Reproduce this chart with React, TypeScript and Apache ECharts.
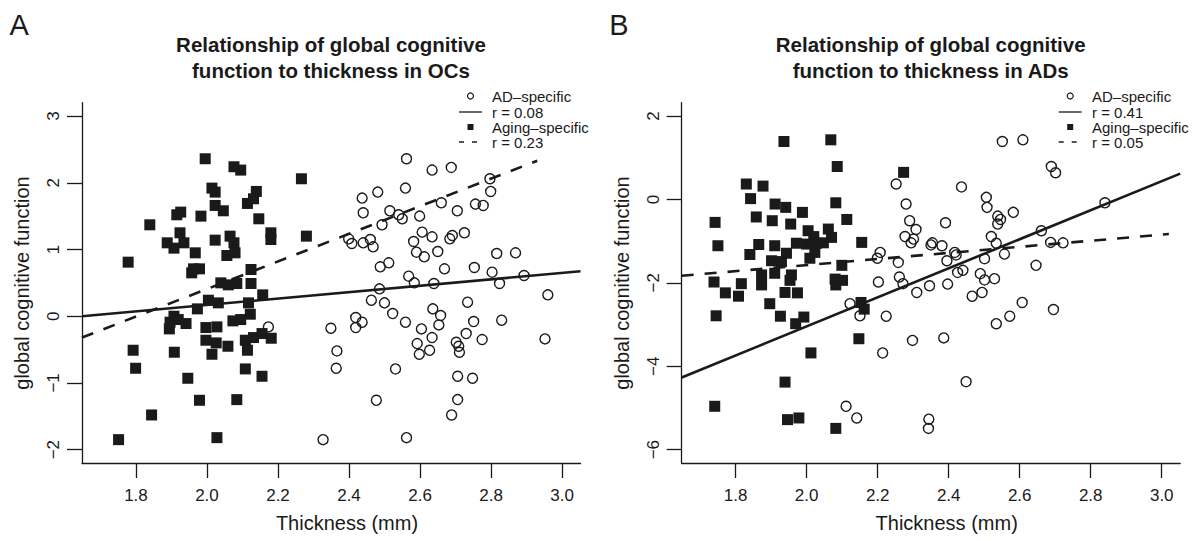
import React, { useEffect, useRef } from "react";
import * as echarts from "echarts";

// ---------- data ----------
const xTicks = [1.8, 2.0, 2.2, 2.4, 2.6, 2.8, 3.0];
const yTicksA = [-2, -1, 0, 1, 2, 3];
const yTicksB = [-6, -4, -2, 0, 2];

// Panel A (OCs): AD-specific (open circles)
const ocAD: number[][] = [
  [2.562, 2.36], [2.634, 2.19], [2.688, 2.23], [2.797, 2.06], [2.799, 1.87], [2.559, 1.92],
  [2.481, 1.86], [2.437, 1.77], [2.44, 1.55], [2.515, 1.58], [2.54, 1.52], [2.55, 1.46],
  [2.493, 1.37], [2.599, 1.5], [2.66, 1.7], [2.705, 1.58], [2.756, 1.68], [2.778, 1.66],
  [2.606, 1.26], [2.634, 1.19], [2.691, 1.21], [2.684, 1.16], [2.725, 1.25], [2.582, 1.12],
  [2.59, 0.96], [2.612, 0.89], [2.65, 0.97], [2.399, 1.16], [2.408, 1.09], [2.44, 1.1],
  [2.46, 1.15], [2.468, 1.04], [2.488, 0.74], [2.512, 0.8], [2.816, 0.94], [2.869, 0.95],
  [2.669, 0.71], [2.753, 0.73], [2.803, 0.66], [2.568, 0.6], [2.893, 0.61], [2.584, 0.5],
  [2.639, 0.49], [2.824, 0.49], [2.486, 0.41], [2.463, 0.24], [2.5, 0.2], [2.523, 0.04],
  [2.96, 0.32], [2.734, 0.21], [2.636, 0.11], [2.658, 0.01], [2.653, -0.13], [2.419, -0.02],
  [2.437, -0.09], [2.419, -0.17], [2.349, -0.18], [2.559, -0.09], [2.604, -0.19], [2.751, -0.08],
  [2.83, -0.06], [2.634, -0.32], [2.592, -0.41], [2.598, -0.57], [2.627, -0.51], [2.702, -0.39],
  [2.709, -0.45], [2.711, -0.54], [2.73, -0.26], [2.775, -0.35], [2.952, -0.34], [2.366, -0.52],
  [2.364, -0.78], [2.531, -0.79], [2.706, -0.9], [2.748, -0.93], [2.477, -1.26], [2.706, -1.25],
  [2.689, -1.48], [2.327, -1.85], [2.562, -1.82], [2.173, -0.16],
];

// Panel A (OCs): Aging-specific (filled squares)
const ocAging: number[][] = [
  [1.995, 2.36], [2.076, 2.24], [2.095, 2.19], [2.266, 2.06], [2.014, 1.92], [2.023, 1.86],
  [2.139, 1.87], [2.131, 1.76], [2.114, 1.69], [1.926, 1.56], [1.915, 1.52], [2.023, 1.66],
  [2.046, 1.58], [1.983, 1.5], [1.839, 1.37], [2.146, 1.46], [2.18, 1.25], [2.18, 1.15],
  [2.28, 1.2], [1.924, 1.25], [1.935, 1.1], [1.888, 1.1], [1.907, 1.02], [1.967, 0.95],
  [2.023, 1.14], [2.065, 1.2], [2.076, 1.1], [2.056, 0.91], [2.079, 0.95], [1.778, 0.81],
  [1.962, 0.71], [1.979, 0.71], [1.957, 0.65], [2.124, 0.7], [2.124, 0.49], [2.039, 0.5],
  [2.06, 0.47], [2.084, 0.49], [2.157, 0.32], [1.973, 0.11], [2.004, 0.24], [2.032, 0.2],
  [2.117, 0.2], [1.907, 0.0], [1.896, -0.09], [1.919, -0.05], [1.941, -0.11], [1.894, -0.19],
  [1.997, -0.17], [2.028, -0.16], [2.073, -0.07], [2.095, -0.05], [2.122, 0.03], [1.997, -0.36],
  [2.026, -0.4], [2.014, -0.57], [2.059, -0.45], [2.108, -0.36], [2.131, -0.32], [2.155, -0.26],
  [2.181, -0.33], [2.114, -0.51], [1.792, -0.51], [1.908, -0.54], [1.799, -0.78], [1.946, -0.93],
  [2.108, -0.79], [2.155, -0.9], [1.979, -1.26], [2.084, -1.25], [1.844, -1.48], [1.751, -1.85],
  [2.028, -1.82],
];

// Panel B (ADs): AD-specific (open circles)
const adAD: number[][] = [
  [2.252, 0.37], [2.28, -0.11], [2.29, -0.51], [2.308, -0.72], [2.277, -0.89], [2.294, -1.04],
  [2.301, -0.95], [2.207, -1.27], [2.199, -1.41], [2.258, -1.51], [2.202, -1.98], [2.261, -1.86],
  [2.271, -2.02], [2.31, -2.23], [2.122, -2.5], [2.15, -2.79], [2.224, -2.8], [2.298, -3.38],
  [2.214, -3.68], [2.111, -4.96], [2.141, -5.24], [2.551, 1.39], [2.609, 1.43], [2.689, 0.79],
  [2.701, 0.64], [2.84, -0.08], [2.436, 0.3], [2.506, 0.05], [2.508, -0.19], [2.582, -0.31],
  [2.538, -0.4], [2.546, -0.48], [2.538, -0.59], [2.391, -0.56], [2.52, -0.89], [2.534, -1.05],
  [2.661, -0.75], [2.687, -1.03], [2.722, -1.04], [2.354, -1.04], [2.35, -1.09], [2.381, -1.11],
  [2.417, -1.27], [2.421, -1.33], [2.395, -1.47], [2.557, -1.31], [2.501, -1.42], [2.646, -1.58],
  [2.425, -1.75], [2.44, -1.7], [2.489, -1.78], [2.529, -1.9], [2.346, -2.07], [2.397, -2.03],
  [2.501, -1.93], [2.466, -2.32], [2.494, -2.23], [2.607, -2.47], [2.572, -2.8], [2.534, -2.98],
  [2.695, -2.64], [2.386, -3.32], [2.449, -4.37], [2.344, -5.27], [2.343, -5.49],
];

// Panel B (ADs): Aging-specific (filled squares)
const adAging: number[][] = [
  [1.936, 1.39], [2.068, 1.43], [2.086, 0.79], [2.273, 0.65], [1.83, 0.37], [1.877, 0.32],
  [1.842, 0.02], [1.911, -0.11], [1.941, -0.19], [1.988, -0.31], [2.082, -0.08], [1.742, -0.55],
  [1.858, -0.42], [1.903, -0.51], [1.955, -0.59], [2.113, -0.48], [2.004, -0.75], [2.061, -0.71],
  [2.07, -0.91], [2.02, -0.89], [2.028, -1.05], [2.0, -1.07], [1.971, -1.05], [2.047, -1.04],
  [2.155, -1.03], [1.75, -1.11], [1.865, -1.08], [1.91, -1.11], [1.84, -1.32], [1.943, -1.29],
  [1.901, -1.47], [1.929, -1.49], [2.009, -1.41], [2.023, -1.27], [2.099, -1.58], [1.873, -1.81],
  [1.873, -2.05], [1.91, -1.77], [1.957, -1.81], [1.953, -1.94], [1.739, -1.98], [1.816, -2.02],
  [1.771, -2.24], [1.808, -2.32], [1.939, -2.23], [1.974, -2.24], [2.08, -1.91], [2.101, -1.94],
  [2.082, -2.05], [1.896, -2.5], [1.745, -2.79], [1.926, -2.8], [1.969, -2.98], [1.992, -2.82],
  [2.153, -2.47], [2.162, -2.63], [2.147, -3.34], [2.012, -3.68], [1.939, -4.38], [1.741, -4.96],
  [1.946, -5.28], [1.978, -5.24], [2.082, -5.49],
];

// fitted lines (end points)
const fitOcAD = [[1.648, 0.0], [3.052, 0.674]];
const fitOcAging = [[1.648, -0.32], [2.93, 2.33]];
const fitAdAD = [[1.648, -4.27], [3.052, 0.62]];
const fitAdAging = [[1.648, -1.83], [3.02, -0.83]];

const legendA = ["AD–specific", "r = 0.08", "Aging–specific", "r = 0.23"];
const legendB = ["AD–specific", "r = 0.41", "Aging–specific", "r = 0.05"];

// ---------- styling ----------
const FONT = '"Liberation Sans", Arial, Helvetica, sans-serif';
const INK = "#1a1a1a";
const X_MIN = 1.648;
const X_MAX = 3.052;
const GRID_TOP = 102.7;
const GRID_H = 360.3;
const GRID_W = 498.5;
const LEFT_A = 82;
const LEFT_B = 681.7;
const fmtNum = (v: number, d: number) => (v < 0 ? "\u2212" + Math.abs(v).toFixed(d) : v.toFixed(d));

function xAxis(gridIndex: number) {
  return {
    type: "value",
    gridIndex,
    min: X_MIN,
    max: X_MAX,
    axisLine: { show: true, onZero: false, lineStyle: { color: INK, width: 1.3 } },
    axisTick: { show: true, length: 15, customValues: xTicks, lineStyle: { color: INK, width: 1.3 } },
    axisLabel: {
      customValues: xTicks,
      formatter: (v: number) => fmtNum(v, 1),
      margin: 24,
      fontSize: 17,
      color: INK,
      fontFamily: FONT,
    },
    splitLine: { show: false },
  };
}

function yAxis(gridIndex: number, min: number, max: number, ticks: number[]) {
  return {
    type: "value",
    gridIndex,
    min,
    max,
    axisLine: { show: true, onZero: false, lineStyle: { color: INK, width: 1.3 } },
    axisTick: { show: true, length: 15, customValues: ticks, lineStyle: { color: INK, width: 1.3 } },
    axisLabel: {
      customValues: ticks,
      formatter: (v: number) => fmtNum(v, 0),
      rotate: 90,
      margin: 20,
      fontSize: 17,
      color: INK,
      fontFamily: FONT,
    },
    splitLine: { show: false },
  };
}

function scatter(idx: number, data: number[][], open: boolean) {
  return {
    type: "scatter",
    xAxisIndex: idx,
    yAxisIndex: idx,
    data,
    symbol: open ? "circle" : "rect",
    symbolSize: open ? 10 : 11,
    itemStyle: open
      ? { color: "rgba(255,255,255,0)", borderColor: INK, borderWidth: 1.4, opacity: 1 }
      : { color: INK, opacity: 1 },
    silent: true,
  };
}

function fitLine(idx: number, data: number[][], dashed: boolean) {
  return {
    type: "line",
    xAxisIndex: idx,
    yAxisIndex: idx,
    data,
    symbol: "none",
    lineStyle: { color: INK, width: 2.6, type: dashed ? [12, 11] : "solid" },
    silent: true,
    z: 5,
  };
}

function legendGraphic(cx: number, textX: number, labels: string[]) {
  const rows = [96, 112, 127, 142];
  const ts = (y: number, t: string) => ({
    type: "text",
    style: { text: t, x: textX, y, fontSize: 15, fontFamily: FONT, fill: INK, textVerticalAlign: "middle" },
  });
  return [
    { type: "circle", shape: { cx, cy: rows[0], r: 3 }, style: { fill: "none", stroke: INK, lineWidth: 1.2 } },
    ts(rows[0], labels[0]),
    { type: "line", shape: { x1: cx - 11.5, y1: rows[1], x2: cx + 11.5, y2: rows[1] }, style: { stroke: INK, lineWidth: 1.3 } },
    ts(rows[1], labels[1]),
    { type: "rect", shape: { x: cx - 3, y: rows[2] - 3, width: 6, height: 6 }, style: { fill: INK } },
    ts(rows[2], labels[2]),
    {
      type: "line",
      shape: { x1: cx - 11.5, y1: rows[3], x2: cx + 11.5, y2: rows[3] },
      style: { stroke: INK, lineWidth: 1.3, lineDash: [5, 8] },
    },
    ts(rows[3], labels[3]),
  ];
}

function panelText(offset: number, letter: string, title: string) {
  return [
    {
      type: "text",
      style: { text: letter, x: 9.5 + offset, y: 25, fontSize: 29, fontFamily: FONT, fill: INK, textVerticalAlign: "middle" },
    },
    {
      type: "text",
      style: {
        text: title,
        x: 331 + offset,
        y: 57,
        fontSize: 20.5,
        fontWeight: "bold",
        lineHeight: 26,
        fontFamily: FONT,
        fill: INK,
        textAlign: "center",
        textVerticalAlign: "middle",
      },
    },
    {
      type: "text",
      style: {
        text: "Thickness (mm)",
        x: 347 + offset,
        y: 523,
        fontSize: 20,
        fontFamily: FONT,
        fill: INK,
        textAlign: "center",
        textVerticalAlign: "middle",
      },
    },
    {
      type: "text",
      x: 22 + offset,
      y: 283,
      rotation: Math.PI / 2,
      style: {
        text: "global cognitive function",
        x: 0,
        y: 0,
        fontSize: 20,
        fontFamily: FONT,
        fill: INK,
        textAlign: "center",
        textVerticalAlign: "middle",
      },
    },
  ];
}

const option = {
  animation: false,
  backgroundColor: "#ffffff",
  grid: [
    { left: LEFT_A, top: GRID_TOP, width: GRID_W, height: GRID_H },
    { left: LEFT_B, top: GRID_TOP, width: GRID_W, height: GRID_H },
  ],
  xAxis: [xAxis(0), xAxis(1)],
  yAxis: [yAxis(0, -2.2, 3.2, yTicksA), yAxis(1, -6.32, 2.32, yTicksB)],
  series: [
    scatter(0, ocAD, true),
    scatter(0, ocAging, false),
    fitLine(0, fitOcAD, false),
    fitLine(0, fitOcAging, true),
    scatter(1, adAD, true),
    scatter(1, adAging, false),
    fitLine(1, fitAdAD, false),
    fitLine(1, fitAdAging, true),
  ],
  graphic: [
    ...panelText(0, "A", "Relationship of global cognitive\nfunction to thickness in OCs"),
    ...panelText(599.7, "B", "Relationship of global cognitive\nfunction to thickness in ADs"),
    ...legendGraphic(470.5, 492, legendA),
    ...legendGraphic(1070.2, 1092, legendB),
  ],
};

export default function App() {
  const ref = useRef<HTMLDivElement>(null);
  useEffect(() => {
    if (!ref.current) return;
    const chart = echarts.init(ref.current, null, { renderer: "svg" });
    chart.setOption(option as any);
    return () => chart.dispose();
  }, []);
  return (
    <div
      ref={ref}
      style={{ position: "absolute", left: 0, top: 0, width: 1195, height: 541, background: "#fff" }}
    />
  );
}
